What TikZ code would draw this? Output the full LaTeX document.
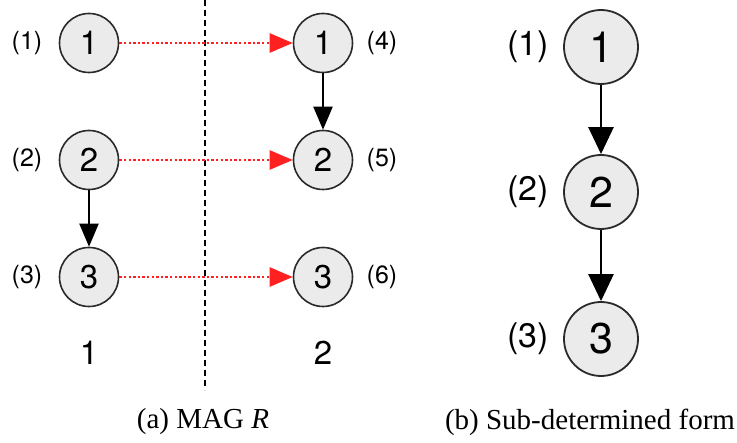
\documentclass[tikz,border=0pt]{standalone}
\usepackage{fontspec}
\setmainfont{Liberation Serif}
\newfontfamily\hv{TeX Gyre Heros}
\usetikzlibrary{arrows.meta}
\definecolor{nodefill}{HTML}{EBEBEB}
\definecolor{nodeedge}{HTML}{2A2A2A}
\definecolor{dotred}{HTML}{FF2020}
\tikzset{
  smallnode/.style={circle,draw=nodeedge,fill=nodefill,line width=1.6pt,minimum size=59pt,inner sep=0pt,font=\hv\fontsize{33}{33}\selectfont},
  bignode/.style={circle,draw=nodeedge,fill=nodefill,line width=1.8pt,minimum size=74pt,inner sep=0pt,font=\hv\fontsize{43}{43}\selectfont},
  smalllabel/.style={inner sep=0pt,font=\hv\fontsize{25}{25}\selectfont},
  biglabel/.style={inner sep=0pt,font=\hv\fontsize{34}{34}\selectfont},
  collabel/.style={inner sep=0pt,font=\hv\fontsize{33}{33}\selectfont},
  caption/.style={inner sep=0pt,font=\fontsize{29}{29}\selectfont},
  blackarrow/.style={line width=2.2pt,-{Triangle[length=23pt,width=19pt]}},
  bigarrow/.style={line width=2.6pt,-{Triangle[length=27pt,width=25pt]}},
  redarrow/.style={dotred,line width=2.6pt,dash pattern=on 2.4pt off 2.2pt,-{Triangle[length=23pt,width=19pt]}},
  divider/.style={line width=1.3pt,dash pattern=on 6pt off 4pt}
}
\begin{document}
\begin{tikzpicture}[x=1pt,y=-1pt]
\useasboundingbox (0,0) rectangle (737,443);
% left panel
\node[smallnode] (a1) at (89,43) {1};
\node[smallnode] (a2) at (89,160) {2};
\node[smallnode] (a3) at (89,277) {3};
\node[smallnode] (b1) at (323,43) {1};
\node[smallnode] (b2) at (323,160) {2};
\node[smallnode] (b3) at (323,277) {3};
\node[smalllabel] (la1) at (27,43) {(1)};
\node[smalllabel] (la2) at (27,160) {(2)};
\node[smalllabel] (la3) at (27,277) {(3)};
\node[smalllabel] (lb1) at (382,43) {(4)};
\node[smalllabel] (lb2) at (382,160) {(5)};
\node[smalllabel] (lb3) at (382,277) {(6)};
\node[collabel] (c1) at (89,353) {1};
\node[collabel] (c2) at (323,353) {2};
\coordinate (dtop) at (205,0);
\coordinate (dbot) at (205,390);
\draw[divider] (dtop) -- (dbot);
\draw[blackarrow] (a2) -- (a3);
\draw[blackarrow] (b1) -- (b2);
\draw[redarrow] (a1) -- (b1);
\draw[redarrow] (a2) -- (b2);
\draw[redarrow] (a3) -- (b3);
% right panel
\node[bignode] (r1) at (601,47) {1};
\node[bignode] (r2) at (601,192) {2};
\node[bignode] (r3) at (601,339) {3};
\node[biglabel] (lr1) at (528,47) {(1)};
\node[biglabel] (lr2) at (528,192) {(2)};
\node[biglabel] (lr3) at (528,339) {(3)};
\draw[bigarrow] (r1) -- (r2);
\draw[bigarrow] (r2) -- (r3);
% captions
\node[caption] (capa) at (203,422) {(a) MAG \textit{R}};
\node[caption] (capb) at (590,422) {(b) Sub-determined form};
\end{tikzpicture}
\end{document}
